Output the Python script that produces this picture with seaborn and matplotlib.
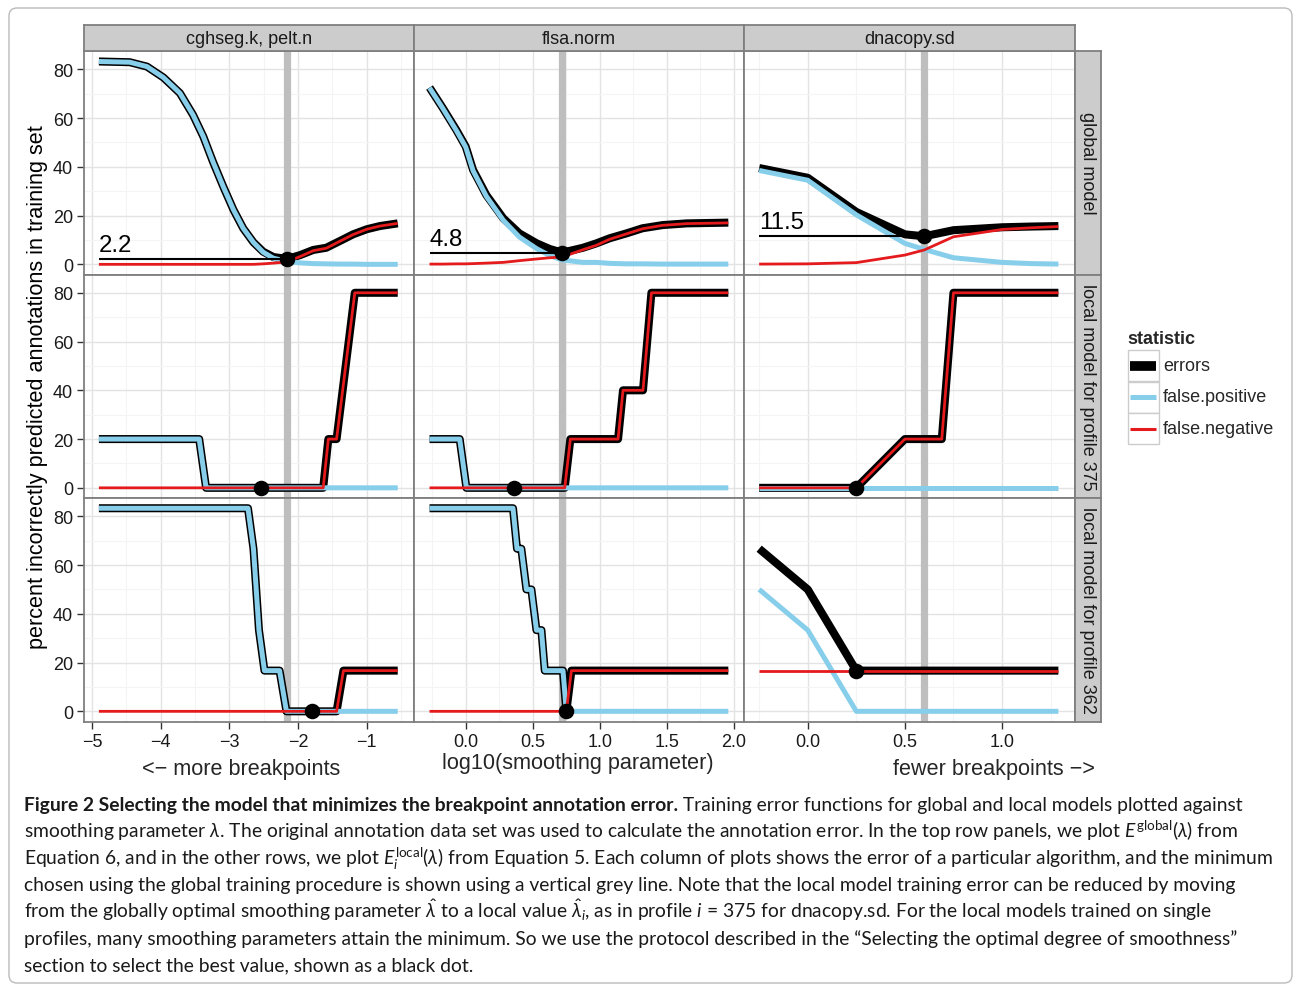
"""
Training error curves for global / local models (3x3 facet, ggplot-like look)
"""
import numpy as np
import pandas as pd
import matplotlib
matplotlib.use("Agg")
import matplotlib.pyplot as plt
import seaborn as sns
from matplotlib.patches import FancyBboxPatch, Rectangle
from matplotlib.ticker import MultipleLocator, FormatStrFormatter

W, H = 1294, 987

sns.set_theme(style="white")
plt.rcParams['font.family'] = ['Liberation Sans', 'DejaVu Sans']
plt.rcParams['mathtext.fontset'] = 'custom'
plt.rcParams['mathtext.rm'] = 'Lato'
plt.rcParams['mathtext.it'] = 'Lato:italic'
plt.rcParams['mathtext.bf'] = 'Lato:bold'

algos = ["cghseg.k, pelt.n", "flsa.norm", "dnacopy.sd"]
models = ["global model", "local model for profile 375", "local model for profile 362"]
stat_order = ["errors", "false.positive", "false.negative"]
stat_colors = {"errors": "black", "false.positive": "#87CEEB", "false.negative": "#E41A1C"}
stat_widths = {"errors": 5.8, "false.positive": 3.6, "false.negative": 2.0}

# ---- global model ----
glob_cgh_x = [-4.9, -4.45, -4.2, -3.96, -3.72, -3.53, -3.38, -3.24, -3.09, -2.94, -2.80, -2.65,
              -2.51, -2.36, -2.16, -1.97, -1.78, -1.59, -1.39, -1.20, -1.0, -0.81, -0.55]
glob_cgh_err = [83.2, 82.9, 81.1, 76.6, 70.2, 61.3, 52.4, 42.1, 31.9, 22.3, 14.8, 9.0,
                5.2, 3.0, 2.2, 3.8, 5.9, 6.8, 9.6, 12.3, 14.4, 15.7, 16.8]
glob_cgh_fp = [83.2, 82.9, 81.1, 76.6, 70.2, 61.3, 52.4, 42.1, 31.9, 22.3, 14.8, 9.0,
               5.0, 2.5, 1.2, 0.6, 0.3, 0.2, 0.1, 0.1, 0.0, 0.0, 0.0]
glob_cgh_fn = [0.0, 0.0, 0.0, 0.0, 0.0, 0.0, 0.0, 0.0, 0.0, 0.0, 0.0, 0.0,
               0.2, 0.5, 1.0, 3.2, 5.6, 6.6, 9.5, 12.2, 14.4, 15.7, 16.8]

glob_flsa_x = [-0.27, -0.17, -0.07, 0.0, 0.055, 0.154, 0.28, 0.40, 0.53, 0.627, 0.72,
               0.875, 0.975, 1.075, 1.2, 1.32, 1.47, 1.65, 1.96]
glob_flsa_err = [72.5, 64.0, 55.1, 48.3, 38.7, 28.4, 18.9, 12.7, 8.6, 6.3, 4.8,
                 6.8, 8.6, 10.7, 12.7, 14.8, 16.1, 16.8, 17.1]
glob_flsa_fp = [72.4, 63.9, 54.9, 48.1, 38.4, 27.9, 18.1, 11.2, 6.4, 3.6, 1.8,
                0.8, 0.8, 0.4, 0.2, 0.2, 0.1, 0.1, 0.1]
glob_flsa_fn = [0.1, 0.1, 0.2, 0.2, 0.3, 0.5, 0.8, 1.5, 2.2, 2.7, 3.0,
                6.0, 7.8, 10.3, 12.5, 14.6, 16.0, 16.7, 17.0]

glob_dna_x = [-0.25, 0.0, 0.25, 0.5, 0.6, 0.75, 1.0, 1.15, 1.29]
glob_dna_err = [39.5, 35.5, 21.5, 12.3, 11.5, 14.0, 15.2, 15.5, 15.7]
glob_dna_fp = [38.5, 34.5, 20.3, 8.6, 6.1, 2.7, 0.8, 0.3, 0.1]
glob_dna_fn = [0.1, 0.2, 0.7, 3.8, 5.9, 11.3, 14.3, 15.0, 15.5]

# ---- local model, profile 375 ----
l375_cgh_x = [-4.9, -3.44, -3.34, -1.635, -1.56, -1.44, -1.175, -0.55]
l375_cgh_err = [20, 20, 0, 0, 20, 20, 80, 80]
l375_cgh_fp = [20, 20, 0, 0, 0, 0, 0, 0]
l375_cgh_fn = [0, 0, 0, 0, 20, 20, 80, 80]

l375_flsa_x = [-0.27, -0.045, 0.005, 0.739, 0.781, 1.137, 1.174, 1.323, 1.386, 1.96]
l375_flsa_err = [20, 20, 0, 0, 20, 20, 40, 40, 80, 80]
l375_flsa_fp = [20, 20, 0, 0, 0, 0, 0, 0, 0, 0]
l375_flsa_fn = [0, 0, 0, 0, 20, 20, 40, 40, 80, 80]

l375_dna_x = [-0.25, 0.0, 0.25, 0.5, 0.69, 0.75, 1.0, 1.29]
l375_dna_err = [0, 0, 0, 20, 20, 80, 80, 80]
l375_dna_fp = [0, 0, 0, 0, 0, 0, 0, 0]
l375_dna_fn = [0, 0, 0, 20, 20, 80, 80, 80]

# ---- local model, profile 362 ----
l362_cgh_x = [-4.9, -2.73, -2.65, -2.57, -2.49, -2.27, -2.17, -1.44, -1.34, -0.55]
l362_cgh_err = [83.3, 83.3, 66.7, 33.3, 16.7, 16.7, 0, 0, 16.7, 16.7]
l362_cgh_fp = [83.3, 83.3, 66.7, 33.3, 16.7, 16.7, 0, 0, 0, 0]
l362_cgh_fn = [0, 0, 0, 0, 0, 0, 0, 0, 16.7, 16.7]

l362_flsa_x = [-0.27, 0.353, 0.383, 0.415, 0.453, 0.49, 0.528, 0.565, 0.59, 0.726, 0.751, 0.789, 1.96]
l362_flsa_err = [83.3, 83.3, 66.7, 66.7, 50, 50, 33.3, 33.3, 16.7, 16.7, 0, 16.7, 16.7]
l362_flsa_fp = [83.3, 83.3, 66.7, 66.7, 50, 50, 33.3, 33.3, 16.7, 16.7, 0, 0, 0]
l362_flsa_fn = [0, 0, 0, 0, 0, 0, 0, 0, 0, 0, 0, 16.7, 16.7]

l362_dna_x = [-0.25, 0.0, 0.25, 0.5, 0.75, 1.0, 1.29]
l362_dna_err = [66.7, 50, 16.7, 16.7, 16.7, 16.7, 16.7]
l362_dna_fp = [50, 33.3, 0, 0, 0, 0, 0]
l362_dna_fn = [16.7, 16.7, 16.7, 16.7, 16.7, 16.7, 16.7]

# chosen (global) smoothing parameter and selected minima
glob_best_x = [-2.16, 0.72, 0.6]
glob_best_err = [2.2, 4.8, 11.5]
l375_best_x = [-2.54, 0.36, 0.25]
l375_best_err = [0, 0, 0]
l362_best_x = [-1.80, 0.751, 0.25]
l362_best_err = [0, 0, 16.7]

panels = {
    (0, 0): (glob_cgh_x, glob_cgh_err, glob_cgh_fp, glob_cgh_fn),
    (0, 1): (glob_flsa_x, glob_flsa_err, glob_flsa_fp, glob_flsa_fn),
    (0, 2): (glob_dna_x, glob_dna_err, glob_dna_fp, glob_dna_fn),
    (1, 0): (l375_cgh_x, l375_cgh_err, l375_cgh_fp, l375_cgh_fn),
    (1, 1): (l375_flsa_x, l375_flsa_err, l375_flsa_fp, l375_flsa_fn),
    (1, 2): (l375_dna_x, l375_dna_err, l375_dna_fp, l375_dna_fn),
    (2, 0): (l362_cgh_x, l362_cgh_err, l362_cgh_fp, l362_cgh_fn),
    (2, 1): (l362_flsa_x, l362_flsa_err, l362_flsa_fp, l362_flsa_fn),
    (2, 2): (l362_dna_x, l362_dna_err, l362_dna_fp, l362_dna_fn),
}
best = [(glob_best_x, glob_best_err), (l375_best_x, l375_best_err), (l362_best_x, l362_best_err)]

frames = []
for (r, c), (x, e, p, n) in panels.items():
    for stat, vals in zip(stat_order, (e, p, n)):
        frames.append(pd.DataFrame({"model": models[r], "algorithm": algos[c],
                                    "x": x, "percent": vals, "statistic": stat}))
df = pd.concat(frames, ignore_index=True)

# layout in pixels
col_px = [84, 414, 744, 1074.5]
row_px = [52, 275.5, 499, 722.5]
xlims = [(-5.117, -0.313), (-0.386, 2.077), (-0.328, 1.373)]
xsteps = [1.0, 0.5, 0.5]
ylim = (-4.17, 87.5)
border = "#7F7F7F"


def fig_box(x0, y0, x1, y1):
    return [x0 / W, 1 - y1 / H, (x1 - x0) / W, (y1 - y0) / H]


fig = plt.figure(figsize=(W / 100, H / 100), dpi=100, facecolor="white")

# background axes in pixel units (box, legend, caption)
bg = fig.add_axes([0, 0, 1, 1], zorder=-1)
bg.set_xlim(0, W)
bg.set_ylim(H, 0)
bg.axis("off")

for r in range(3):
    for c in range(3):
        ax = fig.add_axes(fig_box(col_px[c], row_px[r], col_px[c + 1], row_px[r + 1]))
        ax.set_facecolor("white")
        ax.set_axisbelow(True)
        sub = df[(df["model"] == models[r]) & (df["algorithm"] == algos[c])]

        ax.axvline(glob_best_x[c], color="#BEBEBE", lw=5.2, zorder=1.5)
        sns.lineplot(data=sub, x="x", y="percent", hue="statistic", size="statistic",
                     hue_order=stat_order, size_order=stat_order, palette=stat_colors,
                     sizes=stat_widths, estimator=None, sort=False, legend=False, ax=ax,
                     solid_capstyle="butt", solid_joinstyle="round", zorder=2)

        bx, by = best[r]
        if r == 0:
            x0 = panels[(r, c)][0][0]
            ax.hlines(by[c], x0, bx[c], color="black", lw=1.5, zorder=2.5)
            ax.text(x0, by[c] + 3.3, f"{by[c]:.1f}", fontsize=17.3, ha="left",
                    va="baseline", color="black", zorder=3)
        sns.scatterplot(x=[bx[c]], y=[by[c]], color="black", s=125, edgecolor="black",
                        linewidth=0, ax=ax, zorder=4)

        ax.set_xlim(*xlims[c])
        ax.set_ylim(*ylim)
        ax.set_xlabel("")
        ax.set_ylabel("")
        ax.xaxis.set_major_locator(MultipleLocator(xsteps[c]))
        ax.xaxis.set_minor_locator(MultipleLocator(xsteps[c] / 2))
        ax.yaxis.set_major_locator(MultipleLocator(20))
        ax.yaxis.set_minor_locator(MultipleLocator(10))
        if c > 0:
            ax.xaxis.set_major_formatter(FormatStrFormatter("%.1f"))
        ax.grid(True, which="major", color="#E3E3E3", lw=1.0)
        ax.grid(True, which="minor", color="#F4F4F4", lw=0.8)
        for sp in ax.spines.values():
            sp.set_color(border)
            sp.set_linewidth(1.3)
        ax.tick_params(which="minor", length=0)
        ax.tick_params(which="major", direction="out", length=5, width=1.0, color="#333333",
                       labelsize=13, labelcolor="#1A1A1A", pad=3,
                       left=(c == 0), labelleft=(c == 0),
                       bottom=(r == 2), labelbottom=(r == 2))

# strips
for c in range(3):
    sax = fig.add_axes(fig_box(col_px[c], 26, col_px[c + 1], 52))
    sax.set_facecolor("#CCCCCC")
    sax.set_xticks([])
    sax.set_yticks([])
    for sp in sax.spines.values():
        sp.set_color(border)
        sp.set_linewidth(1.3)
    sax.text(0.5, 0.47, algos[c], transform=sax.transAxes, ha="center", va="center",
             fontsize=13, color="#1A1A1A")
for r in range(3):
    sax = fig.add_axes(fig_box(1074.5, row_px[r], 1101, row_px[r + 1]))
    sax.set_facecolor("#CCCCCC")
    sax.set_xticks([])
    sax.set_yticks([])
    for sp in sax.spines.values():
        sp.set_color(border)
        sp.set_linewidth(1.3)
    sax.text(0.5, 0.5, models[r], transform=sax.transAxes, ha="center", va="center",
             rotation=-90, fontsize=13, color="#1A1A1A")

# axis titles
bg.text(38, 387, "percent incorrectly predicted annotations in training set", rotation=90,
        ha="center", va="center", fontsize=15.6, color="black")
bg.text(241, 775, "<\u2212 more breakpoints", ha="center", va="baseline", fontsize=15.6)
bg.text(578, 769, "log10(smoothing parameter)", ha="center", va="baseline", fontsize=15.6)
bg.text(1095, 775, "fewer breakpoints \u2212>", ha="right", va="baseline", fontsize=15.6)

# legend
bg.text(1127, 344, "statistic", fontweight="bold", fontsize=13, ha="left", va="baseline")
key_widths = {"errors": 7.0, "false.positive": 3.6, "false.negative": 2.2}
for i, stat in enumerate(stat_order):
    y0 = 351 + 31.5 * i
    bg.add_patch(Rectangle((1127.5, y0), 31, 31, facecolor="white", edgecolor="#CCCCCC", lw=1.0))
    bg.plot([1130, 1156], [y0 + 15.5, y0 + 15.5], color=stat_colors[stat],
            lw=key_widths[stat], solid_capstyle="butt")
    bg.text(1163, y0 + 15.5, stat, fontsize=13, ha="left", va="center")

# outer box
bg.add_patch(FancyBboxPatch((9, 9), 1283, 975, boxstyle="round,pad=0,rounding_size=8",
                            fill=False, edgecolor="#BBBBBB", lw=1.0))

# caption
cap_font = ["Lato", "DejaVu Sans"]
cap_bold = "Figure 2 Selecting the model that minimizes the breakpoint annotation error."
cap_lines = [
    " Training error functions for global and local models plotted against",
    r"smoothing parameter $\lambda$. The original annotation data set was used to calculate the annotation error. In the top row panels, we plot $E^{\mathrm{global}}(\lambda)$ from",
    r"Equation 6, and in the other rows, we plot $E_i^{\mathrm{local}}(\lambda)$ from Equation 5. Each column of plots shows the error of a particular algorithm, and the minimum",
    "chosen using the global training procedure is shown using a vertical grey line. Note that the local model training error can be reduced by moving",
    r"from the globally optimal smoothing parameter $\hat{\lambda}$ to a local value $\hat{\lambda}_i$, as in profile $i$ = 375 for dnacopy.sd. For the local models trained on single",
    "profiles, many smoothing parameters attain the minimum. So we use the protocol described in the \u201cSelecting the optimal degree of smoothness\u201d",
    "section to select the best value, shown as a black dot.",
]
cap_x0, cap_y0, cap_dy = 24, 811, 26.8
cap_width = 1254
renderer = fig.canvas.get_renderer()
fs0 = 14
tb = bg.text(cap_x0, cap_y0, cap_bold, fontweight="bold", fontsize=fs0, family=cap_font,
             ha="left", va="baseline", color="#1A1A1A")
texts = []
for k, line in enumerate(cap_lines):
    texts.append(bg.text(cap_x0, cap_y0 + k * cap_dy, line, fontsize=fs0, family=cap_font,
                         ha="left", va="baseline", color="#1A1A1A"))
widths = [t.get_window_extent(renderer).width for t in texts]
widths[0] += tb.get_window_extent(renderer).width
fs = fs0 * min(cap_width / w for w in widths[:3])
tb.set_fontsize(fs)
for t in texts:
    t.set_fontsize(fs)
texts[0].set_x(cap_x0 + tb.get_window_extent(renderer).width)

fig.savefig("out.png", dpi=100, facecolor="white")
